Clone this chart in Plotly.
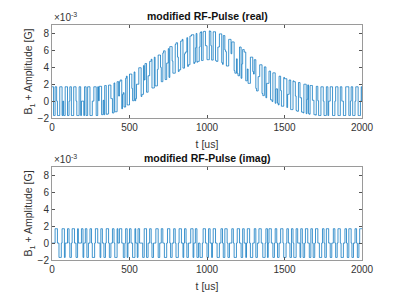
import plotly.graph_objects as go

# time axis samples (us)
t_step_us = 5
t_end_us = 2000

# envelope of real part, units of 1e-3 G, sampled every 20 us from 0 to 2000
env_step_us = 20
env_real_mG = [0]*15 + [
    0.05, 0.1, 0.15, 0.2, 0.3, 0.45, 0.6, 0.8, 1.0, 1.25,
    1.5, 1.75, 2.0, 2.25, 2.5, 2.75, 3.0, 3.25, 3.5, 3.75,
    4.0, 4.25, 4.5, 4.75, 5.0, 5.2, 5.4, 5.6, 5.8, 6.0,
    6.15, 6.3, 6.4, 6.5, 6.55, 6.6, 6.55, 6.5, 6.4, 6.25,
    6.05, 5.85, 5.6, 5.3, 5.0, 4.7, 4.4, 4.1, 3.8, 3.5,
    3.2, 2.9, 2.6, 2.35, 2.1, 1.85, 1.65, 1.45, 1.25, 1.1,
    0.95, 0.8, 0.7, 0.6, 0.5, 0.4, 0.3, 0.22, 0.15, 0.1,
    0.05] + [0]*15

# quantised modification level (units of 1e-3 G)
level_mG = 1.7

# read state per 5 us sample: '+' = +level, '0' = none, '-' = -level
states_real = ("++--++0---" "+++-0--+++" "--0++---++" "+0---++-00" "0-++--+++-"
               "--00+++--+" "0+++--0-++" "---+++00--" "+---++0+++" "-00--++---"
               "+++0--+--0" "00+++---+0" "++--00+++-" "--+---0+++" "0--+++--00"
               "+-+++0---+" "++0---+++-" "-000+---++" "+++--0+---" "0++--+++00"
               "---++0--++" "+---00+++-" "-++00---++" "+0+++---0-" "--++-0++++"
               "--0---+++0" "0++---00++" "+---++-000" "++---+++-0" "0--++0---+"
               "+++-00++--" "-+++0---++" "00---+++-0" "+--+++00--" "-++0---+++"
               "0---++-00+" "++---0+++-" "--++00---+" "+++--0++--" "-0+++---0+" "0")
states_imag = ("0000+++00-" "--0+++-000" "++0--0+++0" "0--+0000++" "-00++--00+"
               "+0---0+++0" "00-++00--0" "+++0--00++" "0---+00+++" "00--0++-00"
               "++00---+00" "-++0000--+" "++--00++0-" "-000+++--0" "0++00---0+"
               "++0--00++0" "---0+++00-" "0++0--000+" "++-00++--0" "0---0+++00"
               "--++00-0++" "+00---00++" "0--+++0--0" "00++0---0+" "++00--++00"
               "-0+++0---0" "0++--00+++" "00---0++-0" "+++00--0++" "0--00+++0-"
               "--0++00--+" "+0---++000" "-++0--0+++" "00--++0--0" "+++00---0+"
               "+0--+++00-" "-00++0--0+" "++0---00++" "0--+++0--0" "0++0--0+++" "+")

title_real = "modified RF-Pulse (real)"
title_imag = "modified RF-Pulse (imag)"
x_label = "t [us]"
y_label = "B<sub>1</sub> + Amplitude [G]"
x_ticks = [0, 500, 1000, 1500, 2000]
y_ticks = [-2, 0, 2, 4, 6, 8]

sign = {'+': 1, '0': 0, '-': -1}
t = list(range(0, t_end_us + 1, t_step_us))
sr = states_real.ljust(len(t), '0')
si = states_imag.ljust(len(t), '0')
per_env = env_step_us // t_step_us
y_real = [env_real_mG[i // per_env] + sign[sr[i]] * level_mG for i in range(len(t))]
y_imag = [sign[si[i]] * level_mG for i in range(len(t))]

fig = go.Figure()
blue = "#0072BD"
fig.add_trace(go.Scatter(x=t, y=y_real, mode="lines", line=dict(color=blue, width=0.75, shape="hv"),
                         xaxis="x", yaxis="y", showlegend=False))
fig.add_trace(go.Scatter(x=t, y=y_imag, mode="lines", line=dict(color=blue, width=0.75, shape="hv"),
                         xaxis="x2", yaxis="y2", showlegend=False))

font = "Liberation Sans, Arial, sans-serif"
axcol = "#9a9a9a"
txtcol = "#333333"
common_x = dict(range=[0, 2000], tickvals=x_ticks, ticks="inside", ticklen=3, tickcolor="#555",
                showline=True, linecolor=axcol, mirror="ticks", showgrid=False, zeroline=False,
                automargin=False, tickfont=dict(size=10, color=txtcol, family=font))
common_y = dict(range=[-2, 9], tickvals=y_ticks, ticks="inside", ticklen=3, tickcolor="#555",
                showline=True, linecolor=axcol, mirror="ticks", showgrid=False, zeroline=False,
                automargin=False, tickfont=dict(size=10, color=txtcol, family=font))

fig.update_layout(
    width=400, height=300, paper_bgcolor="white", plot_bgcolor="white",
    margin=dict(l=44, r=46, t=17, b=48),
    font=dict(family=font, color=txtcol),
    xaxis=dict(common_x, domain=[0, 1], anchor="y",
               title=dict(text=x_label, font=dict(size=10.5, color=txtcol), standoff=8)),
    yaxis=dict(common_y, domain=[0.604, 1], anchor="x",
               title=dict(text=y_label, font=dict(size=10.5, color=txtcol), standoff=2)),
    xaxis2=dict(common_x, domain=[0, 1], anchor="y2",
                title=dict(text=x_label, font=dict(size=10.5, color=txtcol), standoff=8)),
    yaxis2=dict(common_y, domain=[0, 0.396], anchor="x2",
                title=dict(text=y_label, font=dict(size=10.5, color=txtcol), standoff=2)),
)

for yd, ttl in ((1.0, title_real), (0.396, title_imag)):
    fig.add_annotation(text="<b>" + ttl + "</b>", xref="paper", yref="paper", x=0.5, y=yd,
                       xanchor="center", yanchor="bottom", yshift=1, showarrow=False,
                       font=dict(size=10.5, color="#111", family=font))
    fig.add_annotation(text="\u00d710<sup>-3</sup>", xref="paper", yref="paper", x=0, y=yd,
                       xanchor="left", yanchor="bottom", yshift=0, showarrow=False,
                       font=dict(size=10, color=txtcol, family=font))

fig.write_html("out.html")
